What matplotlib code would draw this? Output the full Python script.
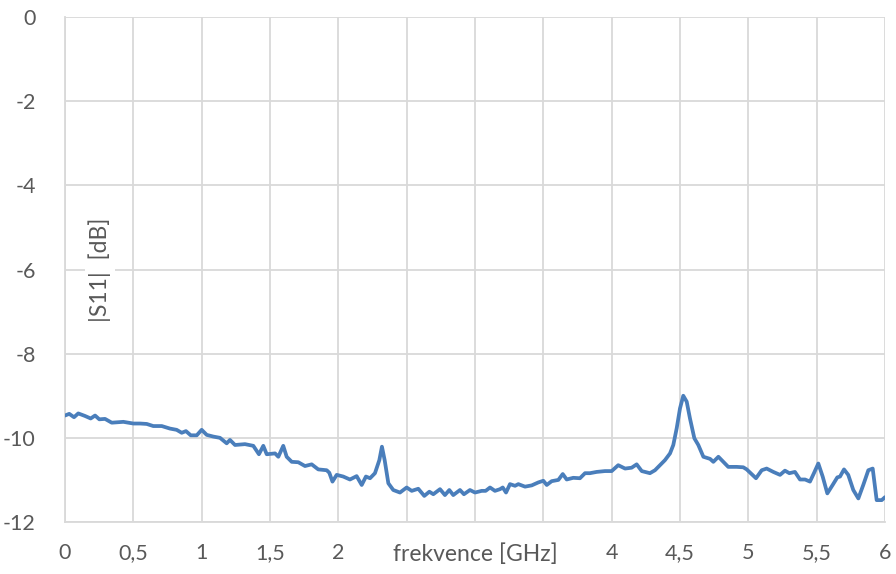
import matplotlib
matplotlib.use("Agg")
import matplotlib.pyplot as plt

freq_ghz = [0.000, 0.031, 0.066, 0.097, 0.146, 0.188, 0.220, 0.251, 0.293, 0.342,
            0.427, 0.500, 0.549, 0.598, 0.646, 0.708, 0.768, 0.817, 0.854, 0.885,
            0.920, 0.964, 1.000, 1.037, 1.085, 1.134, 1.183, 1.207, 1.244, 1.317,
            1.378, 1.419, 1.451, 1.476, 1.537, 1.561, 1.597, 1.622, 1.659, 1.707,
            1.756, 1.805, 1.853, 1.915, 1.934, 1.957, 1.988, 2.036, 2.085, 2.134,
            2.171, 2.202, 2.232, 2.268, 2.300, 2.319, 2.339, 2.366, 2.402, 2.451,
            2.500, 2.537, 2.585, 2.629, 2.666, 2.695, 2.744, 2.780, 2.812, 2.841,
            2.890, 2.919, 2.963, 3.000, 3.049, 3.078, 3.110, 3.146, 3.183, 3.203,
            3.227, 3.256, 3.293, 3.317, 3.366, 3.415, 3.463, 3.500, 3.525, 3.561,
            3.610, 3.642, 3.671, 3.719, 3.768, 3.805, 3.841, 3.890, 3.951, 4.000,
            4.048, 4.098, 4.146, 4.183, 4.220, 4.280, 4.317, 4.354, 4.390, 4.427,
            4.451, 4.476, 4.500, 4.524, 4.549, 4.573, 4.605, 4.634, 4.671, 4.720,
            4.744, 4.781, 4.817, 4.853, 4.915, 4.963, 4.988, 5.024, 5.056, 5.098,
            5.134, 5.183, 5.232, 5.268, 5.300, 5.341, 5.378, 5.415, 5.451, 5.480,
            5.512, 5.544, 5.578, 5.617, 5.651, 5.671, 5.700, 5.731, 5.768, 5.805,
            5.841, 5.878, 5.910, 5.927, 5.939, 5.976, 6.000]

s11_db = [-9.47, -9.43, -9.51, -9.42, -9.48, -9.54, -9.47, -9.56, -9.55, -9.64,
          -9.62, -9.66, -9.66, -9.67, -9.72, -9.72, -9.78, -9.81, -9.88, -9.84,
          -9.94, -9.94, -9.81, -9.93, -9.97, -10.00, -10.13, -10.05, -10.17, -10.15,
          -10.19, -10.39, -10.19, -10.39, -10.37, -10.45, -10.19, -10.45, -10.57, -10.58,
          -10.67, -10.63, -10.75, -10.77, -10.83, -11.04, -10.88, -10.92, -10.99, -10.91,
          -11.12, -10.92, -10.96, -10.84, -10.53, -10.21, -10.53, -11.08, -11.24, -11.30,
          -11.18, -11.26, -11.21, -11.38, -11.28, -11.34, -11.22, -11.36, -11.24, -11.36,
          -11.24, -11.34, -11.24, -11.30, -11.26, -11.26, -11.18, -11.26, -11.22, -11.18,
          -11.30, -11.10, -11.14, -11.10, -11.16, -11.13, -11.06, -11.02, -11.12, -11.03,
          -11.00, -10.86, -10.99, -10.95, -10.96, -10.84, -10.84, -10.81, -10.79, -10.79,
          -10.65, -10.73, -10.71, -10.63, -10.79, -10.84, -10.77, -10.65, -10.53, -10.37,
          -10.17, -9.77, -9.30, -9.00, -9.14, -9.54, -10.01, -10.17, -10.45, -10.50,
          -10.57, -10.45, -10.57, -10.69, -10.69, -10.70, -10.75, -10.86, -10.96, -10.77,
          -10.73, -10.81, -10.88, -10.78, -10.84, -10.81, -10.99, -10.99, -11.04, -10.84,
          -10.61, -10.92, -11.32, -11.12, -10.94, -10.92, -10.75, -10.88, -11.24, -11.44,
          -11.12, -10.77, -10.73, -11.16, -11.48, -11.48, -11.41]

x_ticks = [0, 0.5, 1, 1.5, 2, 2.5, 3, 3.5, 4, 4.5, 5, 5.5, 6]
x_tick_labels = ["0", "0,5", "1", "1,5", "2", "", "", "", "4", "4,5", "5", "5,5", "6"]
y_ticks = [0, -2, -4, -6, -8, -10, -12]
y_tick_labels = ["0", "-2", "-4", "-6", "-8", "-10", "-12"]

plt.rcParams['font.family'] = ['Lato', 'DejaVu Sans']
text_color = '#595959'
grid_color = '#d9d9d9'

fig = plt.figure(figsize=(8.96, 5.74), dpi=100)
ax = fig.add_axes([65/896, 1 - 522/574, 820/896, 505/574])

ax.plot(freq_ghz, s11_db, color='#4a7ebb', linewidth=2.7, solid_joinstyle='round',
        solid_capstyle='round', zorder=3)

ax.set_xlim(0, 6)
ax.set_ylim(-12, 0)
ax.set_xticks(x_ticks)
ax.set_xticklabels(x_tick_labels)
ax.set_yticks(y_ticks)
ax.set_yticklabels(y_tick_labels)
ax.tick_params(axis='both', length=0, labelsize=15.5, labelcolor=text_color)
ax.tick_params(axis='x', pad=15)
ax.tick_params(axis='y', pad=21)
ax.grid(True, color=grid_color, linewidth=1.3)
ax.set_axisbelow(True)
for side in ['top', 'right']:
    ax.spines[side].set_visible(False)
for side in ['left', 'bottom']:
    ax.spines[side].set_color(grid_color)
    ax.spines[side].set_linewidth(1.3)

ax.set_xlabel('frekvence [GHz]', fontsize=16.5, color=text_color,
              bbox=dict(facecolor='white', edgecolor='none', pad=2))
ax.xaxis.set_label_coords(0.5, -0.0634)
ax.xaxis.label.set_verticalalignment('center')

ax.text(0.0427, 0.499, '|S11|  [dB]', transform=ax.transAxes, rotation=90,
        ha='center', va='center', fontsize=16.5, color=text_color,
        bbox=dict(facecolor='white', edgecolor='none', pad=3), zorder=2)

fig.savefig('out.png', dpi=100)
